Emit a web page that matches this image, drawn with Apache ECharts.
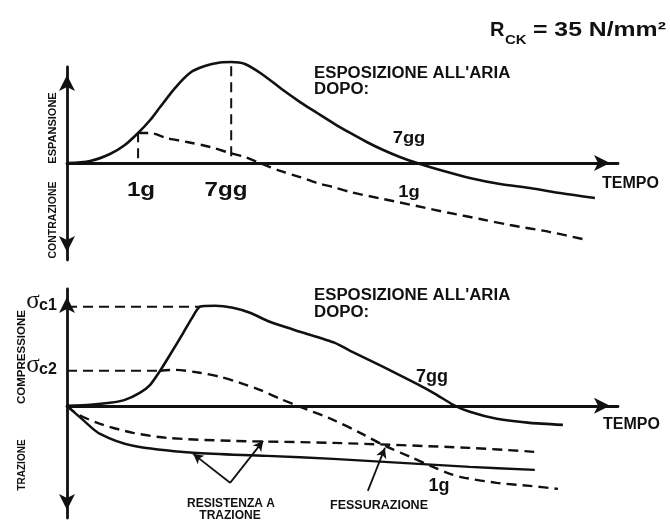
<!DOCTYPE html>
<html>
<head>
<meta charset="utf-8">
<style>
  html, body { margin: 0; padding: 0; background: #ffffff; }
  #chart { width: 670px; height: 522px; }
</style>
<script src="https://cdn.jsdelivr.net/npm/echarts@6/dist/echarts.min.js"></script>
</head>
<body>
<div id="chart"></div>
<script>
// Curve data: [time, value] pairs in arbitrary units (time 0..100).
// Upper diagram: expansion (+) / contraction (-).
const espansione7gg = [[0,0],[4.2,2.1],[7.8,9.4],[10.5,18.8],[12.9,31.3],[15.1,44.8],[16.9,58.3],[19.6,78.1],[22.3,93.8],[25,101],[27.8,104.7],[29.8,105.2],[32.3,103.1],[35.6,91.7],[39.2,76],[42.3,63.5],[45.4,52.1],[48.6,40.6],[51.4,31.3],[54.4,21.9],[57.4,13.5],[60.4,6.3],[64.1,-1],[67.7,-7.3],[73.1,-15.6],[78.6,-21.9],[84,-26],[89.5,-31.3],[95.8,-36.5]];
const espansione1g = [[12.9,31.3],[15.1,31.3],[18.1,26],[21.8,21.9],[26,16.7],[29.6,10.4],[32.3,6.3],[35,0],[38.7,-8.3],[42.3,-14.6],[45.4,-20.8],[48.3,-25],[51.4,-30.2],[57.4,-37.5],[63.5,-44.8],[69.5,-52.1],[75,-58.3],[80.4,-64.6],[87.7,-71.9],[94.4,-80.2]];
const guida1g = [[12.9,5],[12.9,31.3]];
const guida7gg = [[29.8,7],[29.8,105.2]];

// Lower diagram: compression (+) / tension (-).
const compressione7gg = [[0,0],[4.2,0.9],[7.8,2.6],[10.5,5.1],[13.2,11.1],[15.1,18],[16.9,30],[18.7,43.7],[21.1,62.5],[22.7,75.3],[24.1,84.8],[26.9,85.6],[30.1,83.9],[33.2,79.6],[36.8,71.9],[42.3,63.4],[48.6,53.9],[51.4,47.1],[57.4,33.4],[63.5,18.8],[66.8,10.3],[70.1,0.9],[73.1,-5.1],[78,-11.1],[84,-14.6],[90,-16.3]];
const compressione1g = [[16.9,30],[19.6,30.8],[24.1,28.3],[27.8,24.8],[31.4,19.7],[35,13.7],[38.7,6],[42.8,-1.7],[48.3,-12],[53.2,-23.1],[57.7,-34.2],[62.3,-43.7],[66.4,-52.2],[69.5,-58.2],[72.2,-61.6],[78,-65.9],[84,-68.5],[89.1,-71.1]];
const resistenzaTrazione = [[0,0],[2.9,-12],[6,-24],[12,-34.2],[22.9,-40.2],[36.3,-42.8],[48.3,-45.4],[73.1,-52.2],[84.9,-54.8]];
const trazioneFessurazione = [[0,0],[1.8,-6.8],[6,-15.4],[12,-23.1],[18.1,-27.4],[30.1,-30],[48.3,-31.7],[73.1,-36],[84.9,-39.4]];
const sigmaC1 = 84.8;
const sigmaC2 = 30;
const tempoSigmaC1 = 24.1;
const tempoSigmaC2 = 16.9;

// Annotation arrows (tail -> head, data units of the lower diagram).
const frecciaResistenza = [[[29.6,-65.9],[22.9,-41.1]],[[29.6,-65.9],[35.6,-30]]];
const frecciaFessurazione = [[[54.6,-72.8],[57.7,-36]]];

const INK = '#111111';
const DASH = [10, 6];
const FONT = '"Liberation Sans", Arial, sans-serif';

function axisPair(gridIndex, yMin, yMax) {
  const arrow = [12, 16];
  return {
    x: {
      type: 'value', gridIndex, min: 0, max: 100,
      axisLine: { onZero: true, lineStyle: { color: INK, width: 2.8 },
        symbol: ['none', 'arrow'], symbolSize: arrow, symbolOffset: [0, -arrow[1] / 2] },
      axisTick: { show: false }, axisLabel: { show: false }, splitLine: { show: false }
    },
    y: {
      type: 'value', gridIndex, min: yMin, max: yMax,
      axisLine: { onZero: true, lineStyle: { color: INK, width: 2.8 },
        symbol: ['arrow', 'arrow'], symbolSize: arrow, symbolOffset: [arrow[1] / 2, -arrow[1] / 2] },
      axisTick: { show: false }, axisLabel: { show: false }, splitLine: { show: false }
    }
  };
}

const assiSopra = axisPair(0, -101, 100);
const assiSotto = axisPair(1, -96, 100);

function curve(data, idx, dashed, width, smooth) {
  return {
    type: 'line', xAxisIndex: idx, yAxisIndex: idx, data,
    smooth: smooth == null ? 0.3 : smooth, showSymbol: false, clip: false, silent: true,
    lineStyle: { color: INK, width: width || 2.4, type: dashed ? DASH : 'solid' },
    z: 3
  };
}

function arrows(pairs) {
  return {
    type: 'line', xAxisIndex: 1, yAxisIndex: 1, data: [], silent: true,
    markLine: {
      silent: true, symbol: ['none', 'arrow'], symbolSize: [8, 10],
      label: { show: false },
      lineStyle: { color: INK, width: 1.8, type: 'solid' },
      data: pairs.map(p => [{ coord: p[0] }, { coord: p[1] }])
    }
  };
}

function txt(x, y, text, font, align, rot, sx) {
  return {
    type: 'text', x, y, rotation: rot || 0, scaleX: sx || 1, z: 10, silent: true,
    style: { text, font, fill: INK, textAlign: align || 'left', textVerticalAlign: 'middle' }
  };
}

const chart = echarts.init(document.getElementById('chart'), null, { renderer: 'canvas' });
chart.setOption({
  backgroundColor: '#ffffff',
  animation: false,
  grid: [
    { left: 67, right: 52, top: 67, bottom: 262 },
    { left: 67, right: 52, top: 289, bottom: 4 }
  ],
  xAxis: [assiSopra.x, assiSotto.x],
  yAxis: [assiSopra.y, assiSotto.y],
  series: [
    curve(espansione7gg, 0, false, 2.6),
    curve(espansione1g, 0, true, 2.4),
    curve(guida1g, 0, true, 2, 0),
    curve(guida7gg, 0, true, 2, 0),
    curve(compressione7gg, 1, false, 2.6, 0.2),
    curve(compressione1g, 1, true, 2.4),
    curve(resistenzaTrazione, 1, false, 2.4),
    curve(trazioneFessurazione, 1, true, 2.4),
    curve([[0, sigmaC1], [tempoSigmaC1, sigmaC1]], 1, true, 2, 0),
    curve([[0, sigmaC2], [tempoSigmaC2, sigmaC2]], 1, true, 2, 0),
    arrows(frecciaResistenza),
    arrows(frecciaFessurazione)
  ],
  graphic: [
    txt(490, 30, 'R', 'bold 20px ' + FONT),
    txt(505, 40, 'CK', 'bold 13px ' + FONT, 'left', 0, 1.15),
    txt(533, 30, '= 35 N/mm²', 'bold 21px ' + FONT, 'left', 0, 1.18),

    txt(314, 74, "ESPOSIZIONE ALL'ARIA", 'bold 16px ' + FONT, 'left', 0, 1.05),
    txt(314, 90, 'DOPO:', 'bold 16px ' + FONT, 'left', 0, 1.05),
    txt(602, 184, 'TEMPO', 'bold 16px ' + FONT),
    txt(141, 190, '1g', 'bold 21px ' + FONT, 'center', 0, 1.15),
    txt(226, 190, '7gg', 'bold 21px ' + FONT, 'center', 0, 1.15),
    txt(409, 138, '7gg', 'bold 17px ' + FONT, 'center', 0, 1.08),
    txt(409, 192, '1g', 'bold 17px ' + FONT, 'center', 0, 1.08),
    txt(53, 128, 'ESPANSIONE', 'bold 11px ' + FONT, 'center', Math.PI / 2),
    txt(53, 220, 'CONTRAZIONE', 'bold 10.5px ' + FONT, 'center', Math.PI / 2),

    txt(314, 296, "ESPOSIZIONE ALL'ARIA", 'bold 16px ' + FONT, 'left', 0, 1.05),
    txt(314, 313, 'DOPO:', 'bold 16px ' + FONT, 'left', 0, 1.05),
    txt(603, 425, 'TEMPO', 'bold 16px ' + FONT),
    txt(432, 377, '7gg', 'bold 18px ' + FONT, 'center'),
    txt(439, 486, '1g', 'bold 18px ' + FONT, 'center'),
    txt(22, 357, 'COMPRESSIONE', 'bold 11.5px ' + FONT, 'center', Math.PI / 2),
    txt(22, 465, 'TRAZIONE', 'bold 10px ' + FONT, 'center', Math.PI / 2),
    txt(33, 301, '\u03C3', '25px "Liberation Serif", serif', 'center'),
    txt(39, 306, 'c1', 'bold 16px ' + FONT),
    txt(33, 365, '\u03C3', '25px "Liberation Serif", serif', 'center'),
    txt(39, 370, 'c2', 'bold 16px ' + FONT),
    txt(231, 504, 'RESISTENZA A', 'bold 12px ' + FONT, 'center'),
    txt(230, 516, 'TRAZIONE', 'bold 12px ' + FONT, 'center'),
    txt(379, 506, 'FESSURAZIONE', 'bold 12.5px ' + FONT, 'center')
  ]
});
</script>
</body>
</html>
